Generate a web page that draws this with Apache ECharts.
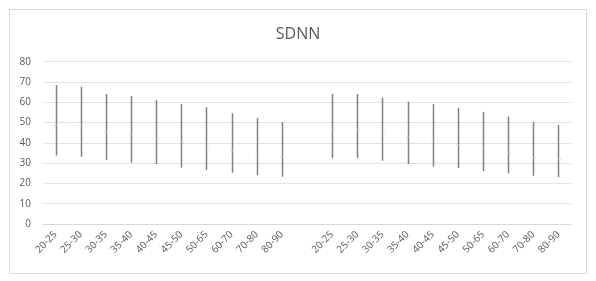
<!DOCTYPE html>
<html>
<head>
<meta charset="utf-8">
<script src="https://cdn.jsdelivr.net/npm/echarts@6/dist/echarts.min.js"></script>
<style>html,body{margin:0;padding:0;background:#fff}#c{width:596px;height:281px}</style>
</head>
<body>
<div id="c"></div>
<script>
var groupLabels = ['20-25','25-30','30-35','35-40','40-45','45-50','50-65','60-70','70-80','80-90'];
var categories = groupLabels.concat(['']).concat(groupLabels);
var highA = [68.5,67.7,64.1,63.1,61.1,59.1,57.5,54.6,52.2,50.3];
var lowA  = [33.7,33.2,31.5,30.2,29.6,27.8,26.6,25.3,24.1,23.3];
var meanA = [48.6,48.6,45.5,44.2,42.2,40.3,38.1,36.1,34.0,33.0];
var highB = [64.1,64.1,62.3,60.3,59.1,57.3,55.3,52.9,50.4,48.8];
var lowB  = [32.4,32.4,31.2,29.6,28.3,27.6,26.1,25.0,23.8,23.0];
var meanB = [46.7,46.7,44.7,42.7,40.6,38.9,37.3,35.3,32.9,31.9];
var yTicks = [0,10,20,30,40,50,60,70,80];

var rangeData = [], meanData = [];
for (var i = 0; i < groupLabels.length; i++) {
  rangeData.push([i, lowA[i], highA[i]]);
  meanData.push([i, meanA[i]]);
}
for (var j = 0; j < groupLabels.length; j++) {
  var k = j + groupLabels.length + 1;
  rangeData.push([k, lowB[j], highB[j]]);
  meanData.push([k, meanB[j]]);
}

var chart = echarts.init(document.getElementById('c'));
chart.setOption({
  animation: false,
  backgroundColor: '#fff',
  title: {
    text: 'SDNN', left: 'center', top: 21,
    textStyle: { fontFamily: 'Open Sans', fontSize: 16, fontWeight: 'normal', color: '#595959' }
  },
  graphic: [{
    type: 'rect', shape: { x: 9.5, y: 9.5, width: 577, height: 264 },
    style: { fill: 'none', stroke: '#d9d9d9', lineWidth: 1 }, silent: true, z: -1
  }],
  grid: { left: 43, right: 25, top: 61.7, bottom: 57 },
  xAxis: {
    type: 'category', data: categories, boundaryGap: true,
    axisLine: { show: true, lineStyle: { color: '#d9d9d9' } },
    axisTick: { show: false },
    axisLabel: { rotate: 45, interval: 0, color: '#595959', fontSize: 10, fontFamily: 'Open Sans', margin: 9 }
  },
  yAxis: {
    type: 'value', min: yTicks[0], max: yTicks[yTicks.length - 1], interval: 10,
    axisLine: { show: false }, axisTick: { show: false },
    axisLabel: { color: '#595959', fontSize: 10, fontFamily: 'Open Sans', margin: 12 },
    splitLine: { lineStyle: { color: '#e3e3e3', width: 1 } }
  },
  series: [{
    type: 'custom',
    data: rangeData,
    renderItem: function (params, api) {
      var lo = api.coord([api.value(0), api.value(1)]);
      var hi = api.coord([api.value(0), api.value(2)]);
      return {
        type: 'line',
        shape: { x1: Math.round(lo[0]) + 0.5, y1: lo[1], x2: Math.round(hi[0]) + 0.5, y2: hi[1] },
        style: { stroke: '#808080', lineWidth: 1.5 }
      };
    },
    encode: { x: 0, y: [1, 2] }
  }, {
    type: 'custom',
    data: meanData,
    renderItem: function (params, api) {
      var p = api.coord([api.value(0), api.value(1)]);
      return {
        type: 'line',
        shape: { x1: p[0] - 1.5, y1: p[1], x2: p[0] + 2.5, y2: p[1] },
        style: { stroke: '#d0d0d0', lineWidth: 1 }
      };
    },
    encode: { x: 0, y: 1 }
  }]
});
</script>
</body>
</html>
